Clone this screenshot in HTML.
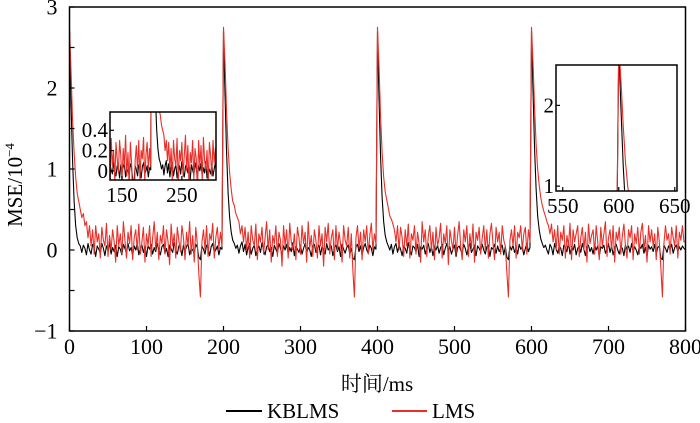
<!DOCTYPE html>
<html><head><meta charset="utf-8"><style>
body{margin:0;background:#fff}
svg{display:block;font-family:"Liberation Serif","Noto Serif CJK SC",serif}
</style></head><body>
<svg id="c" width="700" height="423" viewBox="0 0 700 423">
<defs>
<clipPath id="cm"><rect x="69.5" y="7" width="616" height="324"/></clipPath>
<clipPath id="c1"><rect x="110" y="112" width="106" height="68"/></clipPath>
<clipPath id="c2"><rect x="556" y="65" width="121" height="126"/></clipPath>
</defs>
<text x="22" y="185" font-size="21" text-anchor="middle" transform="rotate(-90 22 185)">MSE/10<tspan font-size="13" dy="-8">−4</tspan></text>
<text x="377" y="391" font-size="21" text-anchor="middle">时间/ms</text>
<g>
<line x1="226" y1="411" x2="262" y2="411" stroke="#000" stroke-width="2"/>
<text x="267" y="418" font-size="21">KBLMS</text>
<line x1="392" y1="411" x2="427" y2="411" stroke="#e8302a" stroke-width="2"/>
<text x="432" y="418" font-size="21">LMS</text>
</g>
</svg>
<script>
const times = Array.from({length:401},(_, i)=>i*2);
const lmsValues = [
2.75,2.2,1.6,1.2,0.9,0.7,0.6,0.5,0.4,0.45,
0.3,0.35,0.15,0.3,0.05,0.25,-0.05,0.3,0.1,0.2,
-0.1,0.28,0.12,0.05,0.33,-0.08,0.18,0.0,0.25,0.1,
-0.15,0.3,0.05,0.2,-0.05,0.35,0.12,-0.1,0.22,0.08,
0.3,-0.12,0.15,0.25,0.0,0.32,-0.05,0.1,0.28,-0.15,
0.2,0.05,0.3,-0.08,0.15,0.35,0.0,0.22,-0.12,0.18,
0.08,0.3,-0.05,0.25,0.1,-0.18,0.32,0.05,0.2,-0.1,
0.28,0.12,-0.02,0.3,0.15,-0.12,0.22,0.05,0.35,-0.05,
0.18,-0.15,0.28,0.08,-0.3,-0.58,0.1,0.25,0.0,0.3,
-0.08,0.2,0.12,0.33,-0.1,0.15,0.28,0.02,0.22,0.05,
2.75,2.3,1.7,1.25,0.95,0.75,0.6,0.55,0.45,0.4,
0.35,0.2,0.3,0.1,0.28,0.0,0.22,-0.1,0.3,0.12,
0.05,0.32,-0.12,0.2,0.1,0.28,-0.05,0.15,0.35,0.0,
0.25,-0.15,0.18,0.08,0.3,-0.08,0.22,0.12,-0.2,0.3,
0.05,0.25,-0.1,0.33,0.1,0.0,0.2,-0.12,0.28,0.15,
-0.05,0.3,0.08,0.22,-0.15,0.35,0.02,0.18,-0.08,0.25,
0.12,-0.1,0.3,0.05,0.2,-0.2,0.28,0.1,0.33,-0.05,
0.15,0.25,-0.12,0.3,0.0,0.22,0.08,-0.15,0.3,0.12,
0.05,0.28,-0.1,0.2,-0.25,-0.58,0.15,0.3,0.02,0.22,
-0.12,0.25,0.1,0.3,-0.05,0.18,0.33,0.0,0.2,0.08,
2.75,2.25,1.65,1.2,0.9,0.72,0.62,0.52,0.42,0.38,
0.32,0.25,0.1,0.3,0.0,0.28,0.15,-0.08,0.25,0.05,
0.32,-0.1,0.2,0.12,0.3,-0.05,0.22,0.08,-0.15,0.35,
0.1,0.25,-0.08,0.18,0.3,0.0,0.22,-0.12,0.28,0.05,
0.15,0.33,-0.1,0.2,0.08,0.3,-0.18,0.25,0.12,0.0,
0.28,-0.05,0.18,0.35,0.05,-0.12,0.25,0.1,0.3,-0.08,
0.2,0.02,0.32,-0.15,0.22,0.12,0.28,-0.05,0.15,0.3,
0.0,0.25,-0.1,0.2,0.33,0.08,-0.12,0.28,0.1,0.22,
-0.05,0.3,0.12,0.05,-0.28,-0.58,0.12,0.25,0.05,0.3,
-0.1,0.22,0.15,0.3,0.0,0.2,0.28,-0.05,0.25,0.1,
2.75,2.3,1.75,1.3,1.0,0.8,0.65,0.55,0.48,0.42,
0.35,0.3,0.2,0.32,0.1,0.25,0.0,0.3,-0.05,0.22,
0.12,0.3,-0.1,0.18,0.05,0.33,-0.12,0.25,0.1,0.2,
0.3,-0.08,0.15,0.28,0.0,0.22,-0.15,0.32,0.08,0.18,
0.25,-0.05,0.3,0.1,-0.12,0.28,0.05,0.2,0.35,-0.08,
0.15,0.25,0.0,0.3,-0.15,0.22,0.12,0.28,-0.05,0.18,
0.32,0.05,-0.1,0.25,0.15,0.3,-0.12,0.2,0.08,0.28,
-0.05,0.22,0.33,0.0,0.18,-0.15,0.3,0.1,0.25,0.05,
0.2,-0.12,0.28,0.1,-0.22,-0.58,0.08,0.3,0.12,0.2,
-0.05,0.28,0.15,0.05,0.3,-0.1,0.22,0.12,0.3,0.1,
0.1];
const kblmsValues = [
2.7,1.8,1.1,0.6,0.3,0.15,0.08,0.05,-0.03,0.06,
0.02,-0.06,0.08,0.0,-0.05,0.07,0.03,-0.08,0.05,0.01,
-0.04,0.08,0.02,-0.07,0.05,0.0,0.09,-0.05,0.03,-0.02,
0.06,-0.08,0.04,0.01,-0.06,0.07,0.02,-0.04,0.08,-0.01,
0.03,-0.07,0.05,0.0,0.09,-0.06,0.02,0.06,-0.03,0.04,
-0.08,0.05,0.01,0.07,-0.05,0.03,-0.02,0.08,0.0,-0.06,
0.04,0.07,-0.04,0.02,-0.08,0.06,0.01,-0.03,0.09,0.0,
-0.05,0.05,0.03,-0.07,0.06,-0.01,0.04,0.08,-0.06,0.02,
0.0,-0.04,0.07,0.03,-0.09,-0.12,0.05,0.01,-0.05,0.06,
0.02,-0.07,0.04,0.08,-0.03,0.0,0.05,-0.06,0.03,0.01,
2.7,1.9,1.2,0.7,0.4,0.22,0.12,0.08,0.02,0.06,
-0.04,0.05,0.1,-0.02,0.07,-0.06,0.03,0.08,-0.05,0.02,
0.06,-0.07,0.01,0.05,-0.03,0.09,0.0,-0.06,0.04,0.07,
-0.02,0.03,-0.08,0.06,0.01,-0.04,0.08,0.02,-0.06,0.05,
0.0,0.07,-0.05,0.03,-0.02,0.09,-0.07,0.04,0.01,-0.03,
0.06,-0.05,0.02,0.08,-0.04,0.03,0.0,-0.08,0.05,0.07,
-0.03,0.02,0.06,-0.06,0.04,0.01,-0.05,0.08,0.0,0.03,
0.05,-0.07,0.02,0.06,-0.02,0.04,-0.08,0.07,0.01,-0.04,
0.03,0.06,-0.05,0.02,-0.1,-0.12,0.04,0.07,-0.02,0.05,
-0.06,0.03,0.08,0.0,-0.04,0.06,0.02,-0.07,0.04,0.01,
2.7,1.85,1.15,0.65,0.35,0.18,0.1,0.05,0.0,0.07,
-0.05,0.04,0.08,-0.03,0.06,0.01,-0.07,0.05,0.02,-0.04,
0.09,0.0,-0.06,0.05,0.03,-0.02,0.07,-0.08,0.04,0.01,
0.06,-0.05,0.02,0.08,-0.03,0.04,-0.07,0.05,0.0,0.06,
-0.04,0.03,0.07,-0.06,0.02,0.08,-0.02,0.04,-0.05,0.01,
0.06,-0.08,0.03,0.05,0.0,-0.04,0.07,0.02,-0.06,0.04,
0.08,-0.03,0.01,0.06,-0.07,0.05,0.02,-0.02,0.07,0.0,
-0.05,0.04,0.06,-0.08,0.03,0.01,0.07,-0.04,0.05,-0.02,
0.02,0.06,-0.06,0.04,-0.09,-0.12,0.05,0.0,0.06,-0.03,
0.03,-0.05,0.07,0.01,0.04,-0.06,0.02,0.08,-0.02,0.03,
2.7,1.95,1.25,0.75,0.42,0.25,0.14,0.08,0.03,0.06,
0.0,-0.05,0.07,0.03,-0.06,0.08,0.01,-0.04,0.05,0.02,
-0.07,0.06,0.03,-0.02,0.09,-0.05,0.04,0.0,0.07,-0.06,
0.02,0.05,-0.03,0.08,0.01,-0.07,0.04,0.06,-0.02,0.03,
-0.05,0.07,0.0,0.05,-0.08,0.04,0.02,0.06,-0.04,0.01,
0.08,-0.03,0.05,-0.06,0.03,0.07,0.0,-0.05,0.04,0.02,
-0.07,0.06,0.01,0.05,-0.03,0.08,-0.02,0.04,0.0,-0.06,
0.05,0.02,0.07,-0.04,0.03,-0.08,0.06,0.01,0.04,-0.02,
0.07,-0.05,0.03,0.05,-0.1,-0.12,0.06,0.02,-0.03,0.05,
0.01,0.07,-0.04,0.03,0.06,-0.02,0.04,0.0,0.05,0.02,
0.0];
const mainXTicks = [0,100,200,300,400,500,600,700,800];
const mainYTicks = [-1,0,1,2,3];
const inset1XTicks = [150,250];
const inset1YTicks = [0,0.2,0.4];
const inset2XTicks = [550,600,650];
const inset2YTicks = [1,2];

const svg = document.getElementById('c');
const NS = 'http://www.w3.org/2000/svg';
function mk(tag, attrs, parent){const e=document.createElementNS(NS,tag);for(const k in attrs)e.setAttribute(k,attrs[k]);parent.appendChild(e);return e;}

function panel(o){
  const g = mk('g',{},svg);
  
  
  const sx = v => o.x0 + (v - o.xmin) / (o.xmax - o.xmin) * (o.x1 - o.x0);
  const sy = v => o.y1 - (v - o.ymin) / (o.ymax - o.ymin) * (o.y1 - o.y0);
  if(o.bg){mk('rect',{x:o.x0,y:o.y0,width:o.x1-o.x0,height:o.y1-o.y0,fill:'#fff'},g);}
  const series = [[kblmsValues,'#000','kblms-line'],[lmsValues,'#e8302a','lms-line']];
  for(const [vals,col,nm] of series){
    const d = vals.map((v,i)=>(i?'L':'M')+sx(times[i]).toFixed(2)+' '+sy(v).toFixed(2)).join('');
    const p = mk('path',{d:d,fill:'none',stroke:col,'stroke-width':o.sw,'clip-path':'url(#'+o.clip+')','stroke-linejoin':'round'},g);
    
    
  }
  const frame = mk('rect',{x:o.x0,y:o.y0,width:o.x1-o.x0,height:o.y1-o.y0,fill:'none',stroke:'#000','stroke-width':1.5},g);
  
  
  for(const t of o.xt){
    const x = sx(t);
    mk('line',{x1:x,y1:o.y1,x2:x,y2:o.y1-o.tl,stroke:'#000','stroke-width':1.2},g);
    const tx = mk('text',{x:x,y:o.y1+o.xlo,'font-size':o.fs,'text-anchor':'middle'},g);
    tx.textContent = t;
    
    
  }
  for(const t of o.yt){
    const y = sy(t);
    mk('line',{x1:o.x0,y1:y,x2:o.x0+o.tl,y2:y,stroke:'#000','stroke-width':1.2},g);
    const tx = mk('text',{x:o.x0-o.ylo,y:y+o.fs*0.33,'font-size':o.fs,'text-anchor':'end'},g);
    tx.textContent = t<0 ? '−'+(-t) : t;
    
    
  }
  if(o.minor){for(const t of o.minor){const y=sy(t);mk('line',{x1:o.x0,y1:y,x2:o.x0+o.tl,y2:y,stroke:'#000','stroke-width':1.2},g);}}
}
panel({name:'main-plot',x0:69.5,x1:685.5,y0:7,y1:331,xmin:0,xmax:800,ymin:-1,ymax:3,xt:mainXTicks,yt:mainYTicks,minor:[-0.5,0.5,1.5,2.5],clip:'cm',sw:1.1,fs:22,tl:5,xlo:23,ylo:12});
panel({name:'inset-150-300',x0:110,x1:216,y0:112,y1:180,xmin:130,xmax:307,ymin:-0.09,ymax:0.58,xt:inset1XTicks,yt:inset1YTicks,clip:'c1',sw:1.1,fs:21,tl:4,xlo:22,ylo:2,bg:true});
panel({name:'inset-550-650',x0:556,x1:677,y0:65,y1:191,xmin:544,xmax:652,ymin:0.94,ymax:2.5,xt:inset2XTicks,yt:inset2YTicks,clip:'c2',sw:1.1,fs:21,tl:4,xlo:22,ylo:2,bg:true});
</script>
</body></html>
